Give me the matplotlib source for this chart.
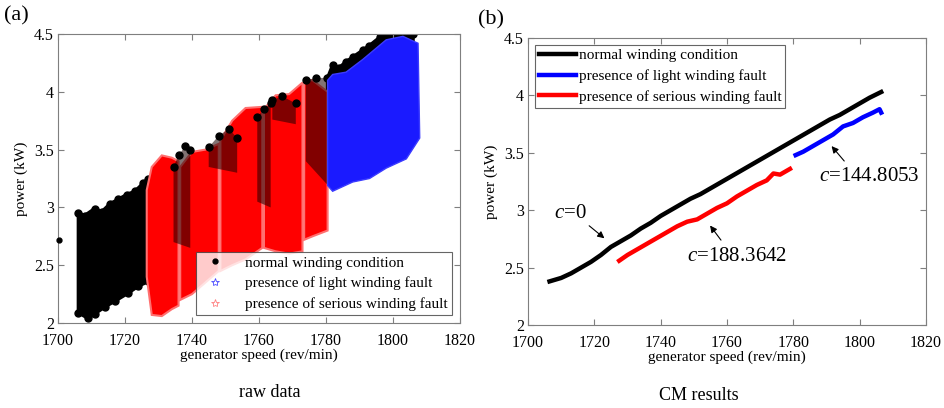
"""
Winding-fault CM figure: (a) raw power vs speed clouds, (b) CM curves.
Clouds in (a) are drawn as filled envelopes read off the original scatter.
"""
import matplotlib
matplotlib.use("Agg")
import matplotlib.pyplot as plt
from matplotlib.patches import Polygon

plt.rcParams["font.family"] = ["Liberation Serif", "DejaVu Serif"]
plt.rcParams["mathtext.fontset"] = "custom"
plt.rcParams["mathtext.rm"] = "Liberation Serif"
plt.rcParams["mathtext.it"] = "Liberation Serif:italic"

GREY = "#7f7f7f"
LABELS = ["normal winding condition", "presence of light winding fault",
          "presence of serious winding fault"]

# ---- (a) raw data envelopes (speed, power) ----
normal_a = [(1706.1, 2.95), (1708, 2.93), (1711, 2.99), (1713, 2.96), (1715.5, 3.03),
            (1718, 3.07), (1720.5, 3.11), (1723, 3.14), (1725.5, 3.21), (1727, 3.25),
            (1727, 2.36), (1724, 2.32), (1721, 2.26), (1717, 2.19), (1714, 2.14),
            (1711, 2.08), (1709, 2.04), (1706.1, 2.09)]
normal_strips = [
    [(1734.5, 3.35), (1736, 3.45), (1738, 3.53), (1739.5, 3.50), (1739.5, 2.65), (1734.5, 2.70)],
    [(1745, 3.52), (1748, 3.62), (1751, 3.68), (1753.5, 3.60), (1753.5, 3.30), (1745, 3.35)],
    [(1759.5, 3.78), (1761.5, 3.85), (1763.5, 3.90), (1763.5, 3.00), (1759.5, 3.05)],
    [(1764, 3.93), (1767, 3.96), (1771, 3.90), (1771, 3.72), (1764, 3.76)],
    [(1774, 4.10), (1777, 4.12), (1780.3, 4.12), (1780.3, 3.20), (1774, 3.40)],
]
normal_c = [(1780.5, 4.12), (1782, 4.23), (1784, 4.21), (1786, 4.26), (1788, 4.30),
            (1791, 4.36), (1793, 4.40), (1796, 4.47), (1799, 4.50), (1802, 4.50),
            (1806, 4.50), (1806, 4.30), (1780.5, 3.90)]
normal_outlier = [(1700.2, 2.72)]

serious_bands = [
    [(1726.5, 3.15), (1728, 3.35), (1731, 3.45), (1734, 3.43), (1736, 3.40),
     (1736, 2.15), (1734, 2.12), (1731, 2.06), (1728, 2.07), (1726.5, 2.40)],
    [(1736.5, 3.35), (1740, 3.48), (1744, 3.50), (1748, 3.55),
     (1748, 2.45), (1744, 2.35), (1740, 2.25), (1736.5, 2.20)],
    [(1748.5, 3.58), (1752, 3.75), (1756, 3.86), (1761, 3.87),
     (1761, 2.65), (1756, 2.55), (1752, 2.50), (1748.5, 2.45)],
    [(1761.5, 3.85), (1765, 3.97), (1769, 3.98), (1773, 4.08),
     (1773, 2.62), (1769, 2.60), (1765, 2.62), (1761.5, 2.65)],
    [(1773.5, 4.10), (1776, 4.10), (1780.5, 4.00),
     (1780.5, 2.80), (1776, 2.75), (1773.5, 2.72)],
]

light = [(1780.5, 4.10), (1782, 4.15), (1786, 4.17), (1791, 4.28), (1798, 4.45),
         (1803, 4.48), (1807.5, 4.42), (1808, 3.60), (1804, 3.42), (1798, 3.34),
         (1793, 3.25), (1788, 3.22), (1782, 3.14), (1780.5, 3.19)]

# ---- (b) CM result curves ----
normal_x = [1706.5, 1710, 1713, 1716, 1719, 1722, 1725, 1728, 1731, 1734, 1737, 1740,
            1743, 1746, 1749, 1752, 1755, 1758, 1761, 1764, 1767, 1770, 1773, 1776,
            1779, 1782, 1785, 1788, 1791, 1794, 1797, 1800, 1803, 1806.5]
normal_y = [2.38, 2.41, 2.45, 2.50, 2.55, 2.61, 2.68, 2.73, 2.78, 2.84, 2.89, 2.95,
            3.00, 3.05, 3.10, 3.14, 3.19, 3.24, 3.29, 3.34, 3.39, 3.44, 3.49, 3.54,
            3.59, 3.64, 3.69, 3.74, 3.79, 3.83, 3.88, 3.93, 3.98, 4.03]
light_x = [1780.7, 1783, 1786, 1789, 1792, 1795, 1798, 1801, 1804, 1806, 1806.5]
light_y = [3.48, 3.51, 3.56, 3.61, 3.66, 3.73, 3.76, 3.81, 3.85, 3.88, 3.85]
serious_x = [1727.5, 1730, 1733, 1736, 1739, 1742, 1745, 1748, 1751, 1754, 1757, 1760,
             1763, 1766, 1769, 1772, 1774, 1776, 1779]
serious_y = [2.56, 2.61, 2.66, 2.71, 2.76, 2.81, 2.86, 2.90, 2.92, 2.97, 3.02, 3.06,
             3.12, 3.17, 3.22, 3.26, 3.32, 3.31, 3.36]

XTICKS = [1700, 1720, 1740, 1760, 1780, 1800, 1820]
YTICKS = [2, 2.5, 3, 3.5, 4, 4.5]
YTICKLABELS = ["2", "2.5", "3", "3.5", "4", "4.5"]


def style_axes(ax):
    ax.set_xlim(1700, 1820)
    ax.set_ylim(2, 4.5)
    ax.set_xticks(XTICKS)
    ax.set_yticks(YTICKS)
    ax.set_yticklabels(YTICKLABELS)
    ax.tick_params(direction="in", top=True, right=True, length=4, color=GREY,
                   labelsize=11.5, pad=3)
    ax.tick_params(axis="x", pad=7)
    for s in ax.spines.values():
        s.set_color(GREY)
        s.set_linewidth(0.8)
    ax.set_xlabel("generator speed (rev/min)", fontsize=11, labelpad=0)
    ax.set_ylabel("power (kW)", fontsize=11, labelpad=4)


def outline_dots(ax, poly, n_top, **kw):
    # dot the top edge of a cloud so its border looks like the scatter
    xs = [p[0] for p in poly[:n_top]]
    ys = [p[1] for p in poly[:n_top]]
    ax.plot(xs, ys, "o", **kw)


fig = plt.figure(figsize=(9.44, 4.08), dpi=100)
ax1 = fig.add_axes([0.0614, 0.2083, 0.4258, 0.7083])
ax2 = fig.add_axes([0.5593, 0.2034, 0.4216, 0.7034])

# (a)
ax1.add_patch(Polygon(normal_a, closed=True, facecolor="black", edgecolor="black",
                      linewidth=2.5, zorder=1))
outline_dots(ax1, normal_a, len(normal_a), color="black", ms=5, zorder=1)
ax1.add_patch(Polygon(normal_c, closed=True, facecolor="black", edgecolor="black",
                      linewidth=2.5, zorder=1))
outline_dots(ax1, normal_c, 11, color="black", ms=5, zorder=1)
for band in serious_bands:
    ax1.add_patch(Polygon(band, closed=True, facecolor="#ff0000", edgecolor="#ff7070",
                          linewidth=1.5, zorder=2))
for strip in normal_strips:
    ax1.add_patch(Polygon(strip, closed=True, facecolor="#1a0000", edgecolor="none",
                          alpha=0.55, zorder=2.5))
    outline_dots(ax1, strip, len(strip) - 2, color="black", ms=5, zorder=2.6)
ax1.add_patch(Polygon(light, closed=True, facecolor="#1a1aff", edgecolor="#3b3bff",
                      linewidth=1.0, zorder=3))
ax1.plot([p[0] for p in normal_outlier], [p[1] for p in normal_outlier], "o",
         color="black", ms=3.5, zorder=4, clip_on=False)

h1 = ax1.plot([], [], ".", color="black", ms=7)[0]
h2 = ax1.plot([], [], "*", mfc="none", mec="#4a4aff", ms=6, mew=0.6)[0]
h3 = ax1.plot([], [], "*", mfc="none", mec="#ff8080", ms=6, mew=0.6)[0]
leg1 = ax1.legend([h1, h2, h3], LABELS, loc="lower right", bbox_to_anchor=(0.98, 0.028),
                  fontsize=11, frameon=True, fancybox=False, borderpad=0.25,
                  labelspacing=0.45, handletextpad=1.0, borderaxespad=0)
leg1.get_frame().set_edgecolor("#404040")
leg1.get_frame().set_linewidth(0.8)
leg1.set_zorder(5)
style_axes(ax1)

# (b)
ax2.plot(normal_x, normal_y, color="black", lw=3.2, label=LABELS[0])
ax2.plot(light_x, light_y, color="#0000ff", lw=3.2, label=LABELS[1])
ax2.plot(serious_x, serious_y, color="#ff0000", lw=3.2, label=LABELS[2])
leg2 = ax2.legend(loc="upper left", bbox_to_anchor=(0.018, 0.976), fontsize=11,
                  frameon=True, fancybox=False, borderpad=0.25, labelspacing=0.45,
                  handlelength=2.4, handletextpad=0.2, borderaxespad=0)
leg2.get_frame().set_edgecolor("#404040")
leg2.get_frame().set_linewidth(0.8)

arrow = dict(arrowstyle="-|>", color="black", lw=0.8, mutation_scale=10)
ax2.annotate("", xy=(1723.7, 2.74), xytext=(1717.8, 2.88), arrowprops=arrow)
ax2.text(1712.7, 2.97, "$c$=0", fontsize=15, ha="center", va="center")
ax2.annotate("", xy=(1754.4, 2.886), xytext=(1758.7, 2.72), arrowprops=arrow)
ax2.text(1763, 2.60, "$c$=188.3642", fontsize=15, ha="center", va="center")
ax2.annotate("", xy=(1791.0, 3.577), xytext=(1795.9, 3.41), arrowprops=arrow)
ax2.text(1802.8, 3.29, "$c$=144.8053", fontsize=15, ha="center", va="center")
style_axes(ax2)

fig.text(0.004, 0.985, "(a)", fontsize=16, ha="left", va="top")
fig.text(0.506, 0.975, "(b)", fontsize=16, ha="left", va="top")
fig.text(0.286, 0.037, "raw data", fontsize=13, ha="center", va="center")
fig.text(0.740, 0.030, "CM results", fontsize=13, ha="center", va="center")

fig.savefig("out.png", dpi=100)
